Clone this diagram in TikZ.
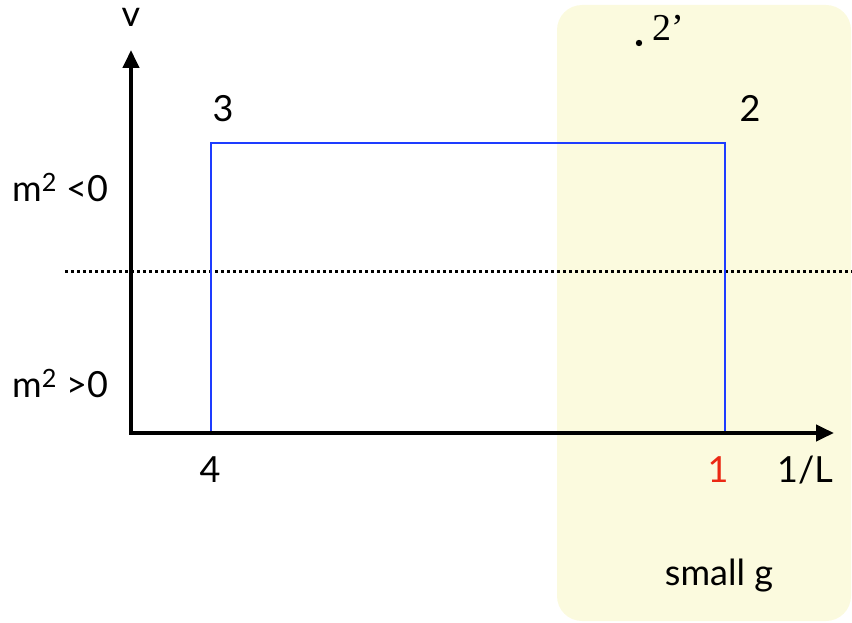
\documentclass[tikz,border=0pt]{standalone}
\usepackage{fontspec}
\setmainfont{Lato}
\newfontfamily\serifprime{Liberation Serif}
\usetikzlibrary{arrows.meta}
\definecolor{gbox}{RGB}{251,250,222}
\definecolor{rectblue}{RGB}{30,60,255}
\definecolor{onered}{RGB}{235,40,20}
\tikzset{
  axis/.style={line width=4pt,-{Triangle[length=18pt,width=16pt]}},
  lbl/.style={inner sep=0pt,anchor=base,font=\fontsize{36}{42}\selectfont},
  mlbl/.style={inner sep=0pt,anchor=base west,font=\fontsize{36}{42}\selectfont}
}
\begin{document}
\begin{tikzpicture}[x=1pt,y=-1pt]
\useasboundingbox (0,0) rectangle (852,623);
\fill[gbox,rounded corners=25pt] (557,5) rectangle (851,621);
\coordinate (o) at (131,433);
\coordinate (ytip) at (131,50);
\coordinate (xtip) at (834,433);
\coordinate (dl) at (65,271);
\coordinate (dr) at (852,271);
\draw[line width=3pt,dash pattern=on 3pt off 3pt] (dl) -- (dr);
\coordinate (p4) at (211,433);
\coordinate (p3) at (211,143);
\coordinate (p2) at (725,143);
\coordinate (p1) at (725,433);
\draw[rectblue,line width=2pt] (p4) -- (p3) -- (p2) -- (p1);
\draw[axis] (o) -- (ytip);
\draw[axis] ([xshift=-2pt]o) -- (xtip);
\node[lbl] (v) at (131,27) {v};
\node[lbl] (l3) at (223,122) {3};
\node[lbl] (l2) at (750,122) {2};
\fill (639,43) circle (3.2pt);
\node[inner sep=0pt,anchor=base,font=\serifprime\fontsize{38}{42}\selectfont] (l2p) at (668,41) {2’};
\node[mlbl] (mneg) at (12,201) {m\textsuperscript{2} <0};
\node[mlbl] (mpos) at (12,397) {m\textsuperscript{2} >0};
\node[lbl] (l4) at (210,482) {4};
\node[lbl,text=onered] (l1) at (718,482) {1};
\node[lbl] (lL) at (805,482) {1/L};
\node[lbl] (sg) at (719,585) {small g};
\end{tikzpicture}
\end{document}
